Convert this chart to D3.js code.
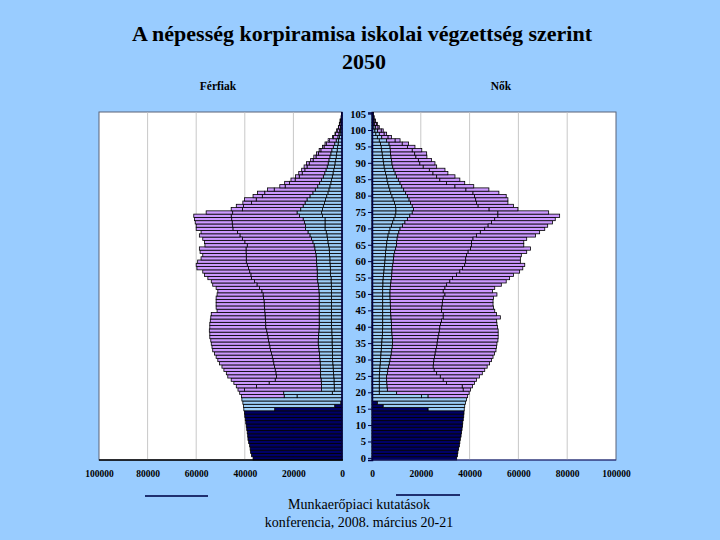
<!DOCTYPE html>
<html>
<head>
<meta charset="utf-8">
<script src="https://cdn.jsdelivr.net/npm/d3@7"></script>
<style>
  body { margin: 0; background: #99ccff; }
  svg { display: block; }
  text { font-family: "Liberation Serif", "Times New Roman", serif; }
</style>
</head>
<body>
<svg id="vis" width="720" height="540"></svg>
<script>
// ages 0..105, values in thousand persons
var ages = d3.range(0, 106);
var keys = ['navy', 'lb1', 'lb2', 'p1', 'p2'];
var xTickValues = [0, 20, 40, 60, 80, 100];

// Férfiak (men) ----------------------------------------------------------------
var menNavy = [
  36.6, 37.2, 37.6, 37.8, 38.0, 38.4, 38.7, 38.8, 39.0, 39.2,
  39.4, 39.6, 39.8, 40.0, 40.1, 27.7, 3.0, 0.5, 0, 0,
  0, 0, 0, 0, 0, 0, 0, 0, 0, 0,   0, 0, 0, 0, 0, 0, 0, 0, 0, 0,
  0, 0, 0, 0, 0, 0, 0, 0, 0, 0,   0, 0, 0, 0, 0, 0, 0, 0, 0, 0,
  0, 0, 0, 0, 0, 0, 0, 0, 0, 0,   0, 0, 0, 0, 0, 0, 0, 0, 0, 0,
  0, 0, 0, 0, 0, 0, 0, 0, 0, 0,   0, 0, 0, 0, 0, 0, 0, 0, 0, 0,
  0, 0, 0, 0, 0, 0];
var menLb1 = [
  0, 0, 0, 0, 0, 0, 0, 0, 0, 0,
  0, 0, 0, 0, 0, 12.7, 37.5, 40.3, 41.2, 18.5,
  4.0, 3.2, 3.2, 3.3, 3.3, 3.4, 3.5, 3.6, 3.7, 3.8,
  3.9, 3.9, 3.9, 4.0, 4.0, 4.1, 4.1, 4.1, 4.2, 4.2,
  4.3, 4.3, 4.3, 4.3, 4.3, 4.3, 4.3, 4.3, 4.3, 4.3,
  4.3, 4.3, 4.4, 4.4, 4.5, 4.5, 4.7, 4.8, 4.8, 4.9,
  5.0, 5.0, 5.1, 5.2, 5.3, 5.5, 5.8, 6.0, 6.2, 6.5,
  7.0, 7.0, 7.0, 7.0, 8.0, 8.4, 8.0, 7.7, 7.2, 6.8,
  6.3, 5.8, 5.4, 5.0, 4.6, 4.3, 4.0, 3.7, 3.4, 3.1,
  2.9, 2.6, 2.4, 2.2, 2.0, 1.8, 1.6, 1.4, 1.0, 0.8,
  0.6, 0.4, 0.3, 0.2, 0.1, 0.1];
var menLb2 = [
  0, 0, 0, 0, 0, 0, 0, 0, 0, 0,
  0, 0, 0, 0, 0, 0, 0, 0, 0, 5.3,
  20.0, 5.2, 5.2, 5.2, 5.3, 5.4, 5.3, 5.3, 5.2, 5.2,
  5.2, 5.3, 5.4, 5.5, 5.6, 5.7, 5.7, 5.6, 5.4, 5.3,
  5.1, 5.1, 5.1, 5.1, 5.1, 5.1, 5.1, 5.1, 5.1, 5.1,
  5.1, 5.2, 5.2, 5.4, 5.5, 5.7, 5.5, 5.4, 5.5, 5.5,
  5.5, 5.5, 5.6, 5.7, 5.9, 6.0, 6.2, 6.6, 7.0, 7.5,
  8.0, 8.0, 8.5, 9.0, 9.5, 10.1, 9.0, 8.3, 8.0, 7.6,
  6.9, 6.2, 5.6, 5.0, 4.6, 4.1, 3.7, 3.4, 3.2, 3.0,
  2.8, 2.8, 2.6, 2.4, 2.2, 1.8, 1.4, 1.0, 0.7, 0.5,
  0.4, 0.3, 0.2, 0.2, 0.1, 0];
var menP1 = [
  0, 0, 0, 0, 0, 0, 0, 0, 0, 0,
  0, 0, 0, 0, 0, 0, 0, 0, 0, 17.6,
  18.1, 31.7, 26.8, 21.5, 18.9, 18.2, 18.4, 18.6, 18.9, 19.1,
  19.3, 19.5, 19.7, 19.9, 20.1, 20.2, 20.4, 20.8, 21.2, 21.5,
  22.0, 22.0, 22.1, 22.2, 22.3, 22.4, 22.5, 22.6, 22.7, 22.9,
  23.1, 23.5, 24.4, 25.2, 26.0, 27.1, 27.3, 27.8, 28.2, 28.6,
  28.9, 28.9, 28.7, 28.6, 28.3, 27.5, 28.0, 28.4, 28.8, 29.0,
  29.9, 30.0, 29.7, 29.4, 28.1, 26.5, 24.0, 24.5, 22.0, 20.9,
  19.6, 19.8, 16.9, 13.4, 12.4, 10.9, 9.9, 9.3, 8.7, 8.3,
  7.8, 6.5, 5.7, 5.1, 4.5, 3.8, 3.5, 2.9, 1.9, 1.4,
  1.0, 0.7, 0.5, 0.3, 0.2, 0.1];
var menP2 = [
  0, 0, 0, 0, 0, 0, 0, 0, 0, 0,
  0, 0, 0, 0, 0, 0, 0, 0, 0, 0,
  0, 2.7, 8.3, 14.5, 18.1, 20.0, 20.4, 21.1, 21.6, 22.3,
  22.7, 23.1, 23.5, 23.8, 23.8, 23.8, 23.8, 23.9, 23.6, 23.6,
  23.0, 23.0, 22.7, 22.4, 22.1, 19.6, 19.9, 19.8, 19.7, 19.5,
  18.9, 18.1, 17.8, 18.2, 17.8, 17.9, 19.1, 19.3, 21.2, 21.0,
  20.0, 18.6, 17.9, 18.9, 19.2, 17.4, 16.6, 16.3, 16.7, 15.0,
  15.1, 15.0, 15.2, 15.3, 15.4, 10.9, 4.6, 3.0, 3.6, 4.8,
  3.8, 3.0, 2.8, 2.2, 2.0, 1.7, 1.5, 1.4, 1.3, 1.2,
  1.1, 1.0, 0.9, 0.8, 0.7, 0.6, 0.5, 0.4, 0.3, 0.2,
  0.2, 0.1, 0.1, 0.1, 0, 0];

// Nők (women) ------------------------------------------------------------------
var womenNavy = [
  34.7, 35.0, 35.2, 35.5, 35.8, 36.0, 36.2, 36.5, 36.7, 36.9,
  37.1, 37.2, 37.4, 37.6, 37.7, 23.0, 4.6, 2.2, 0, 0,
  0, 0, 0, 0, 0, 0, 0, 0, 0, 0,   0, 0, 0, 0, 0, 0, 0, 0, 0, 0,
  0, 0, 0, 0, 0, 0, 0, 0, 0, 0,   0, 0, 0, 0, 0, 0, 0, 0, 0, 0,
  0, 0, 0, 0, 0, 0, 0, 0, 0, 0,   0, 0, 0, 0, 0, 0, 0, 0, 0, 0,
  0, 0, 0, 0, 0, 0, 0, 0, 0, 0,   0, 0, 0, 0, 0, 0, 0, 0, 0, 0,
  0, 0, 0, 0, 0, 0];
var womenLb1 = [
  0, 0, 0, 0, 0, 0, 0, 0, 0, 0,
  0, 0, 0, 0, 0, 14.8, 33.4, 36.1, 38.7, 20.3,
  3.0, 3.0, 3.0, 3.0, 3.0, 3.0, 3.1, 3.2, 3.3, 3.4,
  3.5, 3.6, 3.7, 3.8, 3.9, 4.0, 4.1, 4.2, 4.3, 4.3,
  4.4, 4.4, 4.4, 4.4, 4.4, 4.4, 4.4, 4.4, 4.4, 4.4,
  4.4, 4.4, 4.4, 4.5, 4.5, 4.6, 4.7, 4.9, 5.0, 5.1,
  5.3, 5.4, 5.5, 5.6, 5.8, 6.0, 6.1, 6.3, 6.6, 7.0,
  7.4, 8.0, 8.5, 9.0, 9.5, 9.8, 9.8, 9.6, 9.2, 8.7,
  8.2, 7.7, 7.3, 6.9, 6.5, 6.2, 5.9, 5.6, 5.3, 5.0,
  4.8, 4.6, 4.4, 4.2, 4.0, 3.8, 3.5, 3.0, 2.2, 1.6,
  1.2, 0.8, 0.6, 0.4, 0.3, 0.2];
var womenLb2 = [
  0, 0, 0, 0, 0, 0, 0, 0, 0, 0,
  0, 0, 0, 0, 0, 0, 0, 0, 0, 2.7,
  7.1, 3.3, 3.2, 3.1, 3.0, 3.0, 3.2, 3.3, 3.5, 3.7,
  3.9, 4.1, 4.2, 4.3, 4.4, 4.4, 4.3, 4.1, 3.9, 3.8,
  3.6, 3.6, 3.5, 3.4, 3.3, 3.2, 3.2, 3.1, 3.1, 3.0,
  3.0, 3.0, 3.1, 3.1, 3.3, 3.4, 3.4, 3.3, 3.3, 3.4,
  3.4, 3.4, 3.5, 3.7, 3.9, 4.1, 4.0, 4.0, 4.0, 4.0,
  4.1, 4.5, 5.0, 5.5, 6.0, 6.7, 7.2, 6.9, 6.6, 6.5,
  6.3, 6.1, 5.7, 5.3, 5.0, 4.6, 4.1, 3.9, 3.7, 3.5,
  3.4, 3.4, 3.4, 3.4, 3.5, 3.6, 3.5, 3.0, 1.8, 1.4,
  1.1, 0.7, 0.5, 0.3, 0.15, 0.1];
var womenP1 = [
  0, 0, 0, 0, 0, 0, 0, 0, 0, 0,
  0, 0, 0, 0, 0, 0, 0, 0, 0, 16.2,
  29.7, 31.1, 30.8, 24.4, 23.2, 22.0, 20.2, 19.0, 18.3, 18.1,
  18.0, 17.9, 18.0, 18.1, 18.2, 18.3, 18.5, 18.8, 19.2, 19.5,
  19.8, 20.1, 20.6, 21.4, 21.5, 20.9, 21.0, 21.3, 21.4, 21.8,
  22.5, 21.8, 22.4, 23.0, 24.1, 25.0, 26.5, 27.8, 28.8, 29.5,
  29.7, 29.6, 29.7, 30.1, 30.7, 30.7, 30.7, 31.1, 32.2, 33.4,
  34.7, 35.1, 35.5, 35.8, 36.1, 35.1, 31.0, 27.0, 27.0, 27.3,
  27.5, 27.6, 25.5, 21.8, 19.0, 17.0, 16.5, 15.5, 14.5, 12.5,
  11.4, 11.0, 10.2, 9.9, 9.0, 7.1, 5.4, 3.5, 2.6, 2.0,
  1.5, 1.0, 0.7, 0.5, 0.3, 0.2];
var womenP2 = [
  0, 0, 0, 0, 0, 0, 0, 0, 0, 0,
  0, 0, 0, 0, 0, 0, 0, 0, 0, 0,
  0, 3.0, 4.2, 11.5, 13.6, 16.0, 18.7, 20.7, 22.1, 23.0,
  23.6, 24.0, 24.3, 24.6, 24.5, 24.5, 24.7, 24.6, 24.3, 24.1,
  23.6, 23.1, 22.6, 23.4, 21.8, 21.8, 21.2, 20.8, 20.7, 20.6,
  21.3, 20.2, 20.4, 22.4, 23.1, 23.4, 23.4, 24.5, 24.7, 24.6,
  22.4, 22.4, 22.5, 24.0, 24.6, 21.4, 21.4, 22.0, 24.2, 24.3,
  24.6, 24.4, 25.0, 24.8, 25.3, 20.8, 11.8, 14.5, 12.9, 13.2,
  13.0, 10.6, 9.4, 7.7, 7.5, 8.2, 7.5, 6.1, 6.4, 5.5,
  6.2, 5.4, 4.5, 4.9, 3.9, 3.1, 2.6, 2.0, 1.4, 1.0,
  0.8, 0.5, 0.4, 0.2, 0.15, 0.1];

var colors = { navy: '#000066', lb1: '#9ccdf7', lb2: '#9ccdf7', p1: '#cc99ff', p2: '#cc99ff' };

var svg = d3.select('#vis');

// Scales /////////////////////////////////////////////////////////////////////
var y = d3.scaleBand().domain(ages).range([460, 112.5]).padding(0);
var xL = d3.scaleLinear().domain([0, 100]).range([342, 99]);
var xR = d3.scaleLinear().domain([0, 100]).range([372, 616]);

function rowsFor(a, b, c, d, e) {
  return ages.map(function(age, i) {
    return { age: age, navy: a[i], lb1: b[i], lb2: c[i], p1: d[i], p2: e[i] };
  });
}
var stack = d3.stack().keys(keys);
var men = stack(rowsFor(menNavy, menLb1, menLb2, menP1, menP2));
var women = stack(rowsFor(womenNavy, womenLb1, womenLb2, womenP1, womenP2));

// Title ///////////////////////////////////////////////////////////////////////
svg.append('text').attr('x', 362).attr('y', 41).attr('text-anchor', 'middle')
  .style('font-weight', 'bold').style('font-size', '22px')
  .text('A népesség korpiramisa iskolai végzettség szerint');
svg.append('text').attr('x', 364).attr('y', 69).attr('text-anchor', 'middle')
  .style('font-weight', 'bold').style('font-size', '22px').text('2050');
svg.append('text').attr('x', 218).attr('y', 90).attr('text-anchor', 'middle')
  .style('font-weight', 'bold').style('font-size', '11.5px').text('Férfiak');
svg.append('text').attr('x', 501).attr('y', 90).attr('text-anchor', 'middle')
  .style('font-weight', 'bold').style('font-size', '11.5px').text('Nők');

// Panels //////////////////////////////////////////////////////////////////////
function panel(scale) {
  var g = svg.append('g');
  var x0 = Math.min(scale.range()[0], scale.range()[1]), x1 = Math.max(scale.range()[0], scale.range()[1]);
  g.append('rect').attr('x', x0).attr('y', 112).attr('width', x1 - x0).attr('height', 348)
    .attr('fill', '#ffffff').attr('stroke', '#5a6378').attr('stroke-width', 1);
  g.selectAll('line.grid').data([20, 40, 60, 80]).enter().append('line').attr('class', 'grid')
    .attr('x1', function(d) { return scale(d) }).attr('x2', function(d) { return scale(d) })
    .attr('y1', 112.5).attr('y2', 460).attr('stroke', '#c8c8c8').attr('stroke-width', 1);
  return g;
}
panel(xL);
panel(xR);

function drawBars(series, scale, right) {
  var g = svg.append('g');
  series.forEach(function(s) {
    g.selectAll(null).data(s.filter(function(d) { return d[1] - d[0] > 0 })).enter().append('rect')
      .attr('x', function(d) { return right ? scale(d[0]) : scale(d[1]) })
      .attr('width', function(d) { return Math.abs(scale(d[1]) - scale(d[0])) })
      .attr('y', function(d) { return y(d.data.age) })
      .attr('height', y.bandwidth())
      .attr('fill', colors[s.key])
      .attr('stroke', '#000000').attr('stroke-width', 0.8);
  });
}
drawBars(men, xL, false);
drawBars(women, xR, true);

// Axes ////////////////////////////////////////////////////////////////////////
svg.append('line').attr('x1', 342).attr('x2', 342).attr('y1', 112).attr('y2', 460)
  .attr('stroke', '#000044').attr('stroke-width', 1.5);
svg.append('line').attr('x1', 99).attr('x2', 343).attr('y1', 460).attr('y2', 460)
  .attr('stroke', '#000000').attr('stroke-width', 1.5);
svg.append('line').attr('x1', 372).attr('x2', 616).attr('y1', 460).attr('y2', 460)
  .attr('stroke', '#1a237e').attr('stroke-width', 1);

var ageAxis = svg.append('g').attr('transform', 'translate(372,0)')
  .call(d3.axisLeft(y).tickValues(ages.filter(function(a) { return a % 5 === 0 }))
    .tickSize(4).tickPadding(2));
ageAxis.select('.domain').attr('stroke', '#000044').attr('stroke-width', 1.5);
ageAxis.selectAll('.tick line').attr('stroke', '#000044');
ageAxis.selectAll('text').style('font-family', '"Liberation Serif", serif')
  .style('font-weight', 'bold').style('font-size', '10.5px').attr('fill', '#000');

function bottomAxis(scale) {
  var a = svg.append('g').attr('transform', 'translate(0,460)')
    .call(d3.axisBottom(scale).tickValues(xTickValues).tickSize(0).tickPadding(10)
      .tickFormat(function(d) { return String(d * 1000) }));
  a.select('.domain').remove();
  a.selectAll('text').style('font-family', '"Liberation Serif", serif')
    .style('font-weight', 'bold').style('font-size', '9.5px').attr('fill', '#000');
}
bottomAxis(xL);
bottomAxis(xR);

// Footer //////////////////////////////////////////////////////////////////////
svg.append('line').attr('x1', 145).attr('x2', 208).attr('y1', 496).attr('y2', 496)
  .attr('stroke', '#1f2f70').attr('stroke-width', 2);
svg.append('line').attr('x1', 396).attr('x2', 460).attr('y1', 495).attr('y2', 495)
  .attr('stroke', '#1f2f70').attr('stroke-width', 2);
svg.append('text').attr('x', 359).attr('y', 509).attr('text-anchor', 'middle')
  .style('font-size', '14px').text('Munkaerőpiaci kutatások');
svg.append('text').attr('x', 359).attr('y', 527).attr('text-anchor', 'middle')
  .style('font-size', '14px').text('konferencia, 2008. március 20-21');
</script>
</body>
</html>
